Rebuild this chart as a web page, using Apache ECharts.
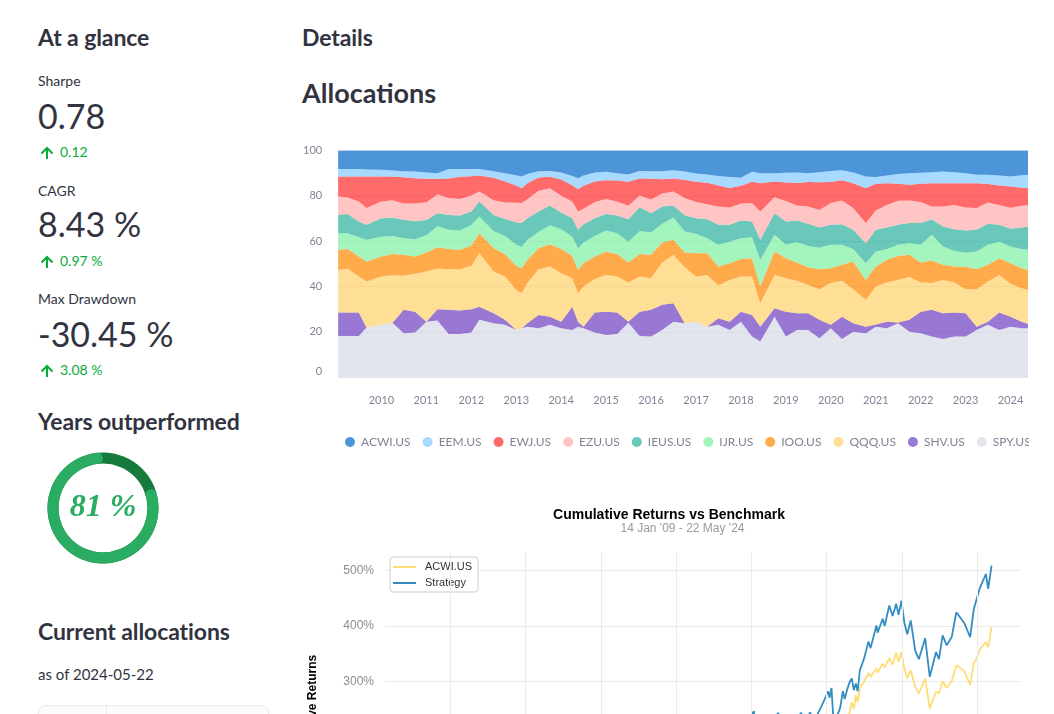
<!DOCTYPE html>
<html><head><meta charset="utf-8">
<script src="https://cdn.jsdelivr.net/npm/echarts@6/dist/echarts.min.js"></script>
<style>
html,body{margin:0;padding:0;width:1054px;height:714px;overflow:hidden;background:#fff;font-family:Lato,"Noto Sans",sans-serif;color:#31333f;}
.t{position:absolute;white-space:nowrap;line-height:1;}
.h3{font-size:23px;font-weight:700;letter-spacing:-0.1px;}
.h2{font-size:27px;font-weight:700;}
.lbl{font-size:14px;}
.val{font-size:34px;font-weight:400;}
.dl{font-size:14px;color:#09ab3b;}
.arrow{position:absolute;}
#alloc{position:absolute;left:300px;top:130px;width:729px;height:330px;}
#donut{position:absolute;left:43px;top:452px;width:120px;height:112px;}
#cum{position:absolute;left:300px;top:495px;width:738px;height:420px;}
#tbl{position:absolute;left:38px;top:705px;width:231px;height:60px;border:1px solid #e6e9ef;border-radius:8px;background:#fcfcfd;box-sizing:border-box;}
#tbl .div{position:absolute;left:67px;top:0;bottom:0;width:1px;background:#e6e9ef;}
</style></head><body>

<div class="t h3" style="left:38px;top:25.5px;">At a glance</div>
<div class="t lbl" style="left:38px;top:74px;">Sharpe</div>
<div class="t val" style="left:38px;top:99px;">0.78</div>
<svg class="arrow" style="left:40px;top:146px" width="14" height="14" viewBox="0 0 14 14"><path d="M7 13 V2 M1.5 7.5 L7 2 L12.5 7.5" stroke="#09ab3b" stroke-width="2" fill="none"/></svg>
<div class="t dl" style="left:60px;top:145px;">0.12</div>

<div class="t lbl" style="left:38px;top:184px;">CAGR</div>
<div class="t val" style="left:38px;top:207px;">8.43 %</div>
<svg class="arrow" style="left:40px;top:255px" width="14" height="14" viewBox="0 0 14 14"><path d="M7 13 V2 M1.5 7.5 L7 2 L12.5 7.5" stroke="#09ab3b" stroke-width="2" fill="none"/></svg>
<div class="t dl" style="left:60px;top:254px;">0.97 %</div>

<div class="t lbl" style="left:38px;top:292px;">Max Drawdown</div>
<div class="t val" style="left:38px;top:317px;">-30.45 %</div>
<svg class="arrow" style="left:40px;top:364px" width="14" height="14" viewBox="0 0 14 14"><path d="M7 13 V2 M1.5 7.5 L7 2 L12.5 7.5" stroke="#09ab3b" stroke-width="2" fill="none"/></svg>
<div class="t dl" style="left:60px;top:363px;">3.08 %</div>

<div class="t h3" style="left:38px;top:410px;">Years outperformed</div>
<div id="donut"></div>

<div class="t h3" style="left:38px;top:620px;">Current allocations</div>
<div class="t" style="left:38px;top:667px;font-size:15px;">as of 2024-05-22</div>
<div id="tbl"><div class="div"></div></div>

<div class="t h3" style="left:302px;top:25.5px;">Details</div>
<div class="t h2" style="left:302px;top:79px;">Allocations</div>
<div id="alloc"></div>
<div id="cum"></div>

<script>
// ---------------- Allocations (stacked, % of portfolio) ----------------
const tickers = ['ACWI.US','EEM.US','EWJ.US','EZU.US','IEUS.US','IJR.US','IOO.US','QQQ.US','SHV.US','SPY.US'];
const allocDates = ['2009-01-14','2009-04-01','2009-07-01','2009-09-01','2010-01-01','2010-04-01','2010-07-01','2010-10-01',
 '2011-01-01','2011-04-01','2011-07-01','2011-10-01','2012-01-01','2012-03-07','2012-07-01','2012-10-01',
 '2013-01-01','2013-02-14','2013-04-01','2013-07-01','2013-10-01','2014-01-01','2014-04-01','2014-05-18',
 '2014-07-01','2014-10-01','2015-01-01','2015-04-01','2015-07-01','2015-10-01','2016-01-01','2016-04-01',
 '2016-07-01','2016-10-01','2017-01-01','2017-04-01','2017-07-01','2017-10-01','2018-01-01','2018-04-01',
 '2018-06-07','2018-10-01','2019-01-01','2019-04-01','2019-07-01','2019-10-01','2020-01-01','2020-04-01',
 '2020-07-01','2020-10-12','2021-01-01','2021-04-01','2021-07-01','2021-10-01','2022-01-01','2022-04-01',
 '2022-07-01','2022-10-01','2023-01-01','2023-04-01','2023-07-01','2023-10-01','2024-01-01','2024-04-01','2024-05-22'];
// cumulative upper edge of each ticker's band (ACWI's upper edge is 100)
const topEEM = [91.8,91.8,91.8,91.6,91.5,91.2,90.9,90.7,90.3,90.0,91.8,91.8,91.8,91.8,90.9,90.0,89.1,88.5,89.6,90.9,91.0,90.3,88.8,87.8,89.0,90.3,90.6,90.0,89.4,91.0,90.9,90.9,91.3,90.7,89.9,89.4,88.8,88.3,88.0,90.6,90.0,90.0,90.2,90.3,90.0,90.4,91.0,91.3,90.3,88.5,88.3,89.0,89.6,90.0,90.2,90.4,90.7,90.4,90.0,89.3,89.3,89.0,88.5,89.1,89.3];
const topEWJ = [88.5,88.5,88.5,88.5,88.5,88.5,88.2,87.8,87.5,87.4,87.7,88.4,88.6,89.0,88.0,86.3,84.6,83.4,85.6,88.1,88.4,87.2,84.7,82.9,84.4,86.3,86.9,86.8,86.2,87.7,87.5,87.3,87.7,87.1,86.2,85.8,84.6,83.5,84.5,86.2,85.6,86.3,85.9,85.7,86.1,86.0,86.1,86.9,85.6,83.4,85.3,85.6,85.3,84.9,85.3,85.6,85.6,85.6,85.6,85.6,85.2,84.6,84.1,83.6,83.4];
const topEZU = [79.7,79.3,77.5,74.6,77.5,78.1,76.6,76.6,77.2,80.6,79.0,78.6,80.1,81.9,78.1,77.1,76.9,76.8,78.5,82.2,83.4,80.0,77.5,73.1,74.3,77.3,78.6,77.5,75.6,80.1,78.4,81.0,81.9,79.0,77.3,76.3,75.3,74.9,76.6,76.8,73.1,79.4,77.7,75.7,75.3,73.8,76.8,77.9,74.6,68.0,73.5,76.0,77.8,77.9,77.3,75.3,75.3,76.0,74.9,74.6,77.1,76.0,74.7,75.6,76.0];
const topIEUS = [71.6,72.0,68.7,67.2,70.1,70.3,69.4,68.8,69.3,72.3,71.6,71.3,73.1,77.5,71.6,69.8,68.3,68.0,70.1,73.1,75.7,72.6,70.1,65.0,67.5,70.1,72.0,71.3,69.7,75.0,72.3,75.3,75.7,71.4,70.1,69.7,67.2,67.2,69.1,68.7,60.6,72.3,68.7,69.1,67.7,66.0,67.2,67.5,65.0,59.1,65.0,66.0,67.2,68.0,68.0,69.7,66.5,65.3,64.7,65.0,67.7,67.3,65.5,66.0,66.5];
const topIJR = [63.5,63.5,61.7,60.6,62.0,62.3,61.3,60.9,62.6,66.6,65.0,64.7,67.1,70.9,64.4,62.3,58.5,57.4,60.6,64.0,67.0,65.3,62.0,56.9,59.4,62.3,64.7,63.5,59.8,64.5,63.8,67.7,70.5,64.3,63.3,61.3,58.4,59.8,61.3,61.7,51.8,62.8,58.4,59.5,57.9,57.1,58.4,58.4,56.6,50.3,55.4,56.4,58.4,59.1,58.4,62.8,57.6,55.7,54.9,55.4,58.4,59.8,57.6,56.4,56.2];
const topIOO = [56.2,56.6,53.2,51.0,53.2,54.4,54.0,53.2,55.0,57.3,56.5,56.2,58.1,63.5,56.9,54.4,49.1,48.1,51.8,56.9,58.6,56.5,53.5,47.3,50.3,53.2,55.3,54.4,50.6,54.4,54.0,59.4,60.6,55.0,54.7,54.7,48.8,50.3,52.1,52.5,40.0,55.4,52.5,50.6,48.5,47.6,48.1,49.6,51.0,42.9,48.8,51.8,53.5,54.0,50.6,51.5,49.6,48.8,48.7,47.6,49.6,52.5,50.3,48.1,47.3];
const topQQQ = [47.3,47.8,44.4,42.2,44.4,45.0,44.7,45.6,46.6,47.9,47.6,47.6,49.1,54.7,46.6,44.4,38.5,37.0,41.5,47.6,48.8,45.9,43.6,37.0,40.0,43.3,45.1,44.4,41.8,44.4,43.6,50.6,53.9,48.5,44.4,45.1,40.4,42.9,44.4,44.4,32.6,45.1,43.6,42.6,40.7,38.8,41.5,42.6,38.8,34.1,40.0,41.8,42.9,44.2,41.8,41.5,42.9,41.8,38.8,38.8,42.2,45.1,41.2,39.2,38.5];
const topSHV = [28.5,28.5,28.5,21.9,23.1,24.0,29.7,28.9,24.5,30.0,29.7,29.4,30.0,31.1,28.2,25.3,20.8,21.6,23.8,27.4,26.7,24.5,31.1,24.5,22.3,28.5,28.9,28.5,24.5,28.9,29.7,32.0,32.6,23.8,24.5,22.3,26.0,24.5,28.9,27.4,22.3,30.4,28.9,28.2,28.2,25.3,23.1,26.7,23.8,22.3,23.3,24.5,24.1,25.3,28.9,29.7,28.2,28.5,28.2,22.3,24.5,28.5,26.7,24.5,23.5];
const topSPY = [18.2,18.2,18.2,21.9,23.1,24.0,19.4,19.7,24.5,25.0,19.1,19.1,19.7,25.3,23.8,23.1,20.8,21.6,22.3,21.6,23.1,21.6,20.8,22.3,21.6,19.7,18.6,19.1,24.0,18.2,17.9,20.8,24.5,23.8,24.5,22.3,23.1,20.8,24.5,17.9,15.7,26.7,18.0,20.8,20.8,17.2,21.6,16.9,20.1,19.4,22.3,21.6,23.8,20.1,19.4,17.9,16.9,17.9,17.9,20.8,23.1,20.8,22.3,21.6,21.6];
const allocTicks = [0,20,40,60,80,100];
const palette = ['#0068c9','#83c9ff','#ff2b2b','#ffabab','#29b09d','#7defa1','#ff8700','#ffd16a','#6d3fc0','#d5dae5'];

// ---------------- Years outperformed ----------------
const yearsOutperformedPct = 81;

// ---------------- Cumulative returns (%) ----------------
const retDates = ['2009-01-14','2009-03-09','2009-06-01','2009-09-01','2009-12-01','2010-04-15','2010-07-01','2010-10-01',
 '2011-01-01','2011-04-29','2011-08-08','2011-10-03','2012-01-01','2012-03-26','2012-06-01','2012-09-14','2012-12-01',
 '2013-03-01','2013-05-21','2013-06-24','2013-09-01','2013-12-31','2014-03-01','2014-06-30','2014-10-15','2014-12-31',
 '2015-04-27','2015-08-24','2015-11-03','2016-02-11','2016-04-20','2016-06-27','2016-08-15','2016-11-04','2016-12-30',
 '2017-03-01','2017-06-01','2017-09-01','2017-12-01','2018-01-26','2018-02-08','2018-03-09','2018-04-02','2018-06-12',
 '2018-07-02','2018-09-21','2018-10-29','2018-12-03','2018-12-24','2019-02-01','2019-04-01','2019-04-30','2019-06-03',
 '2019-07-26','2019-08-26','2019-09-30','2019-11-01','2019-12-01','2020-01-17','2020-01-31','2020-02-19','2020-03-02',
 '2020-03-23','2020-04-14','2020-05-13','2020-06-08','2020-06-26','2020-07-20','2020-08-14','2020-09-03','2020-09-23',
 '2020-10-12','2020-10-30','2020-11-20','2020-12-31','2021-02-12','2021-03-04','2021-04-30','2021-05-12','2021-06-30',
 '2021-07-19','2021-09-02','2021-10-04','2021-11-08','2021-12-01','2021-12-29','2022-01-27','2022-02-24','2022-03-29',
 '2022-05-12','2022-06-16','2022-08-16','2022-09-30','2022-10-12','2022-11-30','2022-12-28','2023-02-02','2023-03-13',
 '2023-05-01','2023-06-15','2023-07-31','2023-09-01','2023-10-27','2023-12-01','2023-12-29','2024-02-01','2024-03-28',
 '2024-04-19','2024-05-22'];
const strategyRet = [0,-12,15,32,45,55,38,58,72,82,58,52,65,82,70,88,92,108,120,108,118,138,142,155,145,155,168,140,158,135,155,145,165,158,172,
 188,202,212,228,246,212,228,210,232,222,243,210,222,185,215,236,243,222,244,225,238,250,262,282,270,288,250,188,238,252,282,268,285,299,305,284,
 296,282,320,341,372,360,401,388,413,400,437,418,440,420,446,405,385,410,355,340,378,308,305,353,340,383,365,380,425,413,405,380,430,449,470,494,467,509];
const acwiRet = [0,-20,10,28,38,45,25,42,55,70,40,35,48,64,48,66,70,80,90,80,90,106,108,122,110,118,135,105,120,96,115,106,122,118,128,
 140,152,160,180,205,182,192,178,190,184,198,168,174,148,172,188,196,180,198,184,194,205,214,228,220,236,205,140,180,190,222,210,228,245,262,250,
 275,262,288,299,315,308,323,316,332,325,342,330,352,335,353,322,305,320,290,278,305,251,248,281,278,300,288,300,329,323,318,293,332,341,358,371,362,398];
const retGridYears = ['2010-01-01','2012-01-01','2014-01-01','2016-01-01','2018-01-01','2020-01-01','2022-01-01','2024-01-01'];
const retTicks = [-100,0,100,200,300,400,500];

// ===================================================================
function blend(hex, a){
  const n = parseInt(hex.slice(1),16);
  const r=(n>>16)&255,g=(n>>8)&255,b=n&255;
  const f=c=>Math.round(c*a+255*(1-a));
  return 'rgb('+f(r)+','+f(g)+','+f(b)+')';
}
const AX = '#808495';
const tops = [allocDates.map(()=>100), topEEM, topEWJ, topEZU, topIEUS, topIJR, topIOO, topQQQ, topSHV, topSPY, allocDates.map(()=>0)];
const weights = tickers.map((t,k)=>allocDates.map((d,i)=>Math.max(0, +(tops[k][i]-tops[k+1][i]).toFixed(1))));
const allocSeries = [];
for (let k = tickers.length-1; k >= 0; k--) {
  allocSeries.push({
    name: tickers[k], type:'line', stack:'alloc', symbol:'none', smooth:false, silent:true,
    data: allocDates.map((d,i)=>[d, weights[k][i]]),
    lineStyle:{width:0, opacity:0},
    itemStyle:{color: blend(palette[k],0.7)},
    areaStyle:{color: palette[k], opacity:0.7},
    emphasis:{disabled:true}
  });
}
const alloc = echarts.init(document.getElementById('alloc'));
alloc.setOption({
  animation:false,
  grid:{left:36, top:20.5, width:692, height:226.7},
  xAxis:{type:'time', min: allocDates[0], max: allocDates[allocDates.length-1],
    minInterval: 365*24*3600*1000, maxInterval: 366*24*3600*1000,
    axisLine:{show:false}, axisTick:{show:false}, splitLine:{show:false},
    axisLabel:{formatter:'{yyyy}', color:AX, fontSize:11, fontFamily:'Lato', margin:18, showMinLabel:false, showMaxLabel:false}},
  yAxis:{type:'value', min:allocTicks[0], max:allocTicks[allocTicks.length-1], interval:20,
    axisLine:{show:false}, axisTick:{show:false},
    splitLine:{show:true, lineStyle:{color:'#e2e5ec', width:1}},
    axisLabel:{color:AX, fontSize:11, fontFamily:'Lato', margin:16,
      formatter: v => v===0 ? '{z|0}' : String(v),
      rich:{z:{padding:[0,0,11,0], color:AX, fontSize:11, fontFamily:'Lato'}}}},
  legend:{data: tickers, left:40, top:301, width:1200, icon:'circle', itemWidth:10, itemHeight:10, itemGap:12,
    selectedMode:false, textStyle:{color:AX, fontSize:12, fontFamily:'Lato', padding:[0,0,0,1]}},
  series: allocSeries
});

// Donut
const donut = echarts.init(document.getElementById('donut'));
donut.setOption({
  animation:false,
  series:[
    {type:'pie', radius:[44.5,55.5], center:[60,56], silent:true, label:{show:false}, labelLine:{show:false},
      data:[{value:100, itemStyle:{color:'#177a3d'}}]},
    {type:'pie', radius:[44.5,55.5], center:[60,56], startAngle:90, clockwise:true, silent:true,
      label:{show:false}, labelLine:{show:false}, itemStyle:{borderRadius:6},
      data:[{value:100-yearsOutperformedPct, itemStyle:{color:'rgba(0,0,0,0)'}}, {value:yearsOutperformedPct, itemStyle:{color:'#2aad62'}}]}
  ],
  graphic:[{type:'text', x:60, y:56, style:{text: yearsOutperformedPct+' %', font:'italic bold 32px "Liberation Serif"', fill:'#2aad62', align:'center', verticalAlign:'middle'}}]
});

// Cumulative returns
const cum = echarts.init(document.getElementById('cum'));
cum.setOption({
  animation:false,
  title:{text:'Cumulative Returns vs Benchmark', left:'center', top:8,
    textStyle:{fontSize:14, fontWeight:'bold', color:'#000', fontFamily:'Liberation Sans'}},
  grid:{left:85, top:57, width:635, height:350.5},
  xAxis:{type:'time', min:'2008-04-07', max:'2025-02-22', axisLine:{show:false}, axisTick:{show:false}, axisLabel:{show:false}, splitLine:{show:false}},
  yAxis:{type:'value', min:retTicks[0], max:533.8, interval:100, axisLine:{show:false}, axisTick:{show:false},
    splitLine:{show:true, showMaxLine:false, lineStyle:{color:'#ebebeb', width:1}},
    axisLabel:{formatter:'{value}%', color:'#8c8c8c', fontSize:12, fontFamily:'Liberation Sans', margin:11, showMaxLabel:false}},
  legend:{data:['ACWI.US','Strategy'], orient:'vertical', left:90, top:62, icon:'rect', itemWidth:23, itemHeight:2, itemGap:4,
    backgroundColor:'#fff', borderColor:'#cccccc', borderWidth:1, borderRadius:3, padding:[4,6,3,3], selectedMode:false,
    textStyle:{fontSize:11, color:'#333', fontFamily:'Liberation Sans', lineHeight:12, padding:[0,0,0,4]}},
  graphic:[
    {type:'text', x:382.5, y:34, style:{text:"14 Jan '09 - 22 May '24", font:'12px "Liberation Sans"', fill:'#9a9a9a', align:'center', verticalAlign:'middle'}},
    {type:'text', x:13, y:216.5, rotation:Math.PI/2, style:{text:'Cumulative Returns', font:'bold 12px "Liberation Sans"', fill:'#000', align:'center', verticalAlign:'middle'}}
  ],
  series:[
    {name:'ACWI.US', type:'line', symbol:'none', silent:true, data: retDates.map((d,i)=>[d, acwiRet[i]]),
      lineStyle:{color:'#fedd78', width:1.8}, itemStyle:{color:'#fedd78'},
      markLine:{silent:true, symbol:['none','none'], label:{show:false}, lineStyle:{color:'#ebebeb', width:1, type:'solid'},
        data: retGridYears.map(d=>({xAxis:d}))}},
    {name:'Strategy', type:'line', symbol:'none', silent:true, data: retDates.map((d,i)=>[d, strategyRet[i]]),
      lineStyle:{color:'#348dc1', width:1.8}, itemStyle:{color:'#348dc1'}}
  ]
});
</script>
</body></html>
